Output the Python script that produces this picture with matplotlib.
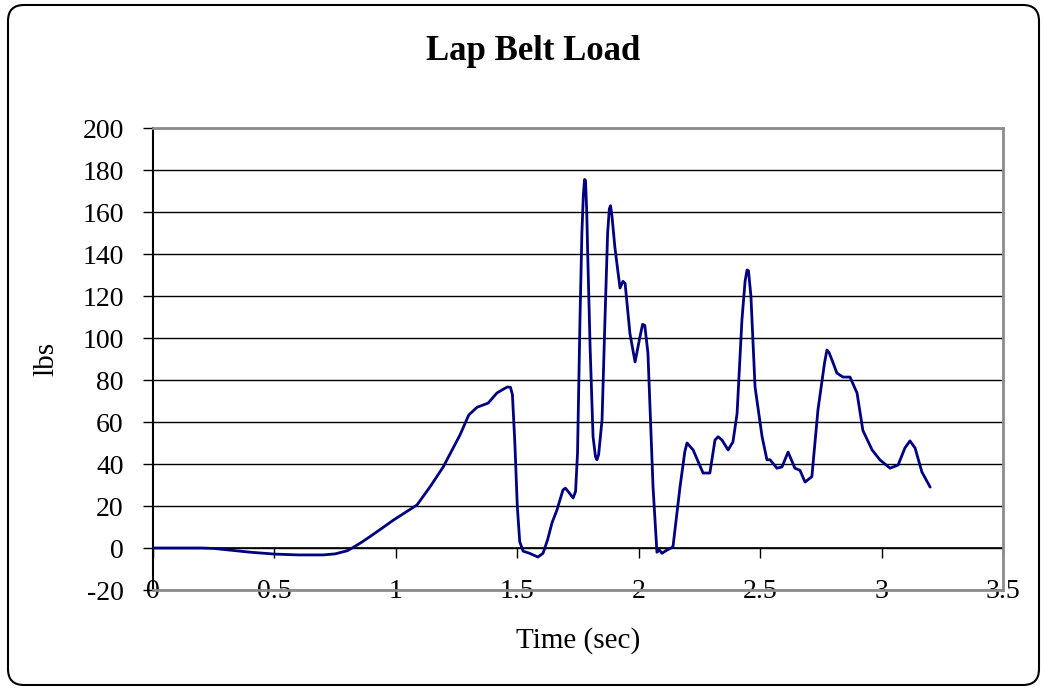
import matplotlib
matplotlib.use("Agg")
import matplotlib.pyplot as plt
from matplotlib.patches import FancyBboxPatch
from matplotlib.transforms import IdentityTransform

# Lap belt load trace
time_s = [0.0, 0.1, 0.2, 0.25, 0.3, 0.4, 0.5, 0.6, 0.7, 0.75, 0.8, 0.82, 0.86,
          0.907, 0.95, 0.99, 1.04, 1.087, 1.14, 1.195, 1.264, 1.30, 1.334, 1.38,
          1.416, 1.445, 1.46, 1.472, 1.48, 1.49, 1.50, 1.51, 1.524, 1.55,
          1.585, 1.606, 1.625, 1.643, 1.663, 1.688, 1.698, 1.709, 1.73, 1.74,
          1.748, 1.758, 1.766, 1.772, 1.777, 1.781, 1.786, 1.79, 1.80, 1.812,
          1.822, 1.828, 1.835, 1.849, 1.861, 1.872, 1.879, 1.884, 1.89, 1.902,
          1.923, 1.935, 1.944, 1.964, 1.985, 2.005, 2.016, 2.025, 2.038, 2.059,
          2.075, 2.085, 2.096, 2.116, 2.141, 2.17, 2.19, 2.199, 2.224, 2.265,
          2.293, 2.314, 2.327, 2.343, 2.368, 2.388, 2.405, 2.425, 2.438, 2.446,
          2.452, 2.462, 2.479, 2.508, 2.528, 2.541, 2.569, 2.59, 2.615, 2.643,
          2.664, 2.685, 2.713, 2.738, 2.765, 2.775, 2.784, 2.796, 2.816, 2.841,
          2.87, 2.899, 2.923, 2.961, 2.993, 3.035, 3.068, 3.096, 3.117, 3.138,
          3.166, 3.2]
load_lbs = [0.0, 0.0, 0.0, -0.2, -0.8, -2.0, -2.9, -3.3, -3.3, -2.8, -1.3, 0.0,
            2.8, 6.5, 10.0, 13.3, 17.0, 20.5, 29.0, 38.6, 53.8, 63.3, 67.0,
            69.0, 73.8, 75.8, 76.7, 76.5, 73.0, 50.0, 20.0, 3.0, -1.5, -2.5,
            -4.3, -2.5, 4.0, 12.0, 18.0, 27.6, 28.5, 27.0, 23.8, 27.0,
            45.0, 108.0, 150.0, 168.0, 175.5, 175.0, 160.0, 140.0, 95.0, 53.0,
            43.5, 42.0, 44.5, 61.0, 108.6, 150.0, 161.5, 163.0, 158.0, 143.0,
            123.8, 127.0, 126.0, 102.0, 88.6, 100.5, 106.5, 106.0, 92.8, 29.0,
            -2.0, -1.0, -2.5, -1.0, 0.5, 29.0, 46.0, 50.0, 46.7, 35.7,
            35.7, 51.4, 53.0, 51.4, 46.7, 50.5, 64.0, 108.6, 127.0, 132.4,
            132.0, 120.0, 76.7, 53.0, 42.0, 42.0, 38.0, 38.6, 45.7, 38.0,
            37.0, 31.4, 34.0, 65.7, 88.0, 94.3, 93.0, 89.5, 83.3, 81.4,
            81.4, 73.8, 56.0, 46.7, 42.0, 38.0, 39.5, 47.6, 51.0, 47.6,
            36.2, 29.0]

y_ticks = [-20, 0, 20, 40, 60, 80, 100, 120, 140, 160, 180, 200]
x_ticks = [0, 0.5, 1, 1.5, 2, 2.5, 3, 3.5]
x_tick_labels = ["0", "0.5", "1", "1.5", "2", "2.5", "3", "3.5"]

plt.rcParams["font.family"] = ["Liberation Serif", "DejaVu Serif"]

W, H = 1044, 689
fig = plt.figure(figsize=(W / 100, H / 100), dpi=100)

# rounded chart-area frame
frame = FancyBboxPatch((8, 4), 1031, 680,
                       boxstyle="round,pad=0,rounding_size=16",
                       transform=IdentityTransform(), fill=False,
                       edgecolor="black", linewidth=1.5)
fig.patches.append(frame)

ax = fig.add_axes([153 / W, 99 / H, 850 / W, 462 / H])
ax.plot(time_s, load_lbs, color="#000080", linewidth=2.0, zorder=3,
        solid_joinstyle="round", solid_capstyle="round")

ax.set_xlim(0, 3.5)
ax.set_ylim(-20, 200)
ax.set_yticks(y_ticks)
ax.set_yticklabels([str(v) for v in y_ticks])
ax.grid(axis="y", color="black", linewidth=1.0)
ax.set_axisbelow(True)

for side in ("top", "right", "bottom"):
    ax.spines[side].set_color("#8c8c8c")
    ax.spines[side].set_linewidth(2)
ax.spines["left"].set_color("black")
ax.spines["left"].set_linewidth(1.5)

ax.tick_params(axis="y", direction="out", length=7, width=1, pad=14,
               labelsize=20, color="black")
ax.set_xticks(x_ticks)
ax.set_xticklabels(x_tick_labels)
ax.tick_params(axis="x", length=0, pad=-8, labelsize=20)

# category axis crossing at zero with outward tick marks
zero_axis = ax.secondary_xaxis(20 / 220)
zero_axis.set_xticks(x_ticks)
zero_axis.tick_params(axis="x", direction="out", length=7, width=1,
                      labelbottom=False, color="black")
zero_axis.spines["bottom"].set_color("black")
zero_axis.spines["bottom"].set_linewidth(1.2)

fig.text(533 / W, 1 - 52 / H, "Lap Belt Load", ha="center", va="center",
         fontsize=25, fontweight="bold")
fig.text(578 / W, 1 - 641 / H, "Time (sec)", ha="center", va="center",
         fontsize=21)
fig.text(46 / W, 1 - 359 / H, "lbs", ha="center", va="center",
         rotation=90, fontsize=21)

fig.savefig("out.png", dpi=100)
